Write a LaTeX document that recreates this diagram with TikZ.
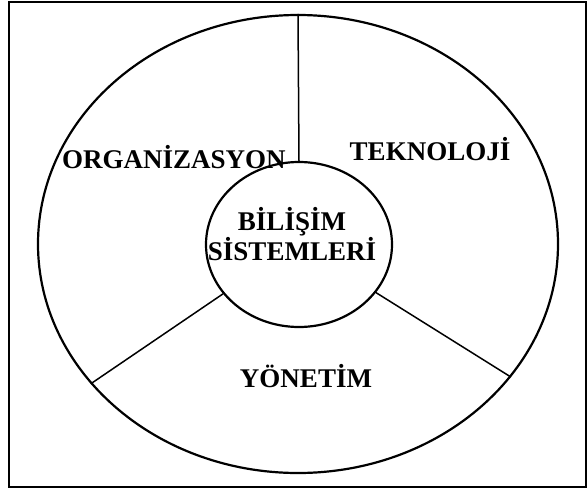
\documentclass[tikz,border=0pt]{standalone}
\usepackage{fontspec}
\setmainfont{Liberation Serif}
\usetikzlibrary{shapes.geometric}

\begin{document}
\begin{tikzpicture}[x=1pt, y=-1pt,
  ring/.style={ellipse, draw, line width=2.2pt, inner sep=0pt},
  divider/.style={line width=1.5pt},
  area/.style={font=\fontsize{27}{30}\selectfont\bfseries, inner sep=0pt, anchor=base},
]
\useasboundingbox (0,0) rectangle (587,490);

%% ============ FRAME ============
\draw[line width=2.4pt] (9,2) rectangle (586,487);

%% ============ ELLIPSES ============
\node[ring, minimum width=520pt, minimum height=458pt] (outer) at (298,244) {};
\node[ring, minimum width=186pt, minimum height=165pt] (inner) at (299,244.5) {};

%% ---- dividers ----
\draw[divider] (inner.90) -- (outer.90);
\draw[divider] (inner.213) -- (outer.214);
\draw[divider] (inner.328) -- (outer.328);

%% ============ LABELS ============
\node[area] (org) at (174,168) {ORGANİZASYON};
\node[area] (tek) at (430,160) {TEKNOLOJİ};
\node[area] (yon) at (306,387) {YÖNETİM};
\node[area] (bil) at (292,230) {BİLİŞİM};
\node[area] (sis) at (292,260) {SİSTEMLERİ};

\end{tikzpicture}
\end{document}
